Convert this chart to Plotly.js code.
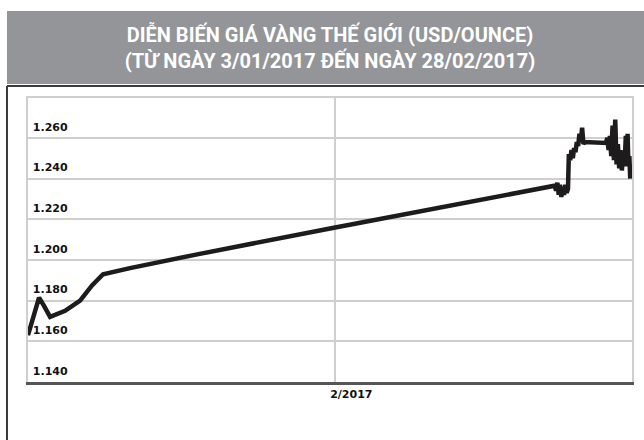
<!DOCTYPE html>
<html>
<head>
<meta charset="utf-8">
<script src="https://cdn.plot.ly/plotly-3.0.1.min.js"></script>
<style>
  html, body { margin: 0; padding: 0; background: #ffffff; }
  #chart { width: 644px; height: 440px; }
</style>
</head>
<body>
<div id="chart"></div>
<script>
// ---- Data ----
const dates = [
  '2017-01-03 00:00','2017-01-03 11:00','2017-01-04 01:00','2017-01-04 12:00','2017-01-05 02:00',
  '2017-01-06 12:00','2017-01-07 22:00','2017-01-09 01:00','2017-01-10 02:00','2017-01-12 15:00',
  '2017-01-19 05:00','2017-01-31 12:00','2017-02-11 20:00','2017-02-21 17:00',
  '2017-02-21 20:00','2017-02-21 23:00','2017-02-22 02:00','2017-02-22 05:00','2017-02-22 08:00',
  '2017-02-22 11:00','2017-02-22 14:00','2017-02-22 17:00','2017-02-22 20:00','2017-02-22 23:00',
  '2017-02-23 01:00','2017-02-23 04:00','2017-02-23 07:00','2017-02-23 10:00','2017-02-23 13:00',
  '2017-02-23 16:00','2017-02-23 19:00','2017-02-23 22:00','2017-02-24 01:00','2017-02-24 04:00',
  '2017-02-24 07:00','2017-02-24 10:00','2017-02-24 13:00','2017-02-26 13:00','2017-02-26 16:00',
  '2017-02-26 19:00','2017-02-26 22:00','2017-02-27 01:00','2017-02-27 04:00','2017-02-27 07:00',
  '2017-02-27 10:00','2017-02-27 13:00','2017-02-27 16:00','2017-02-27 19:00','2017-02-27 22:00',
  '2017-02-28 01:00','2017-02-28 04:00','2017-02-28 07:00','2017-02-28 10:00','2017-02-28 12:00',
  '2017-02-28 14:00','2017-02-28 16:00','2017-02-28 18:00','2017-02-28 20:00'
];
const prices = [
  1163, 1171, 1181.5, 1177.5, 1172,
  1175, 1180, 1187.5, 1193, 1196,
  1203, 1215.5, 1227, 1236.5,
  1234, 1238, 1232, 1237, 1231,
  1236, 1232, 1237, 1233, 1235,
  1252, 1249, 1254, 1250, 1255,
  1253, 1258, 1256, 1262, 1258,
  1265, 1257, 1258, 1257.5, 1260,
  1254, 1261, 1251, 1266, 1249,
  1269, 1247, 1257, 1245, 1254,
  1244, 1252, 1246, 1261, 1248,
  1262, 1246, 1251, 1240
];
const yTickVals = [1140, 1160, 1180, 1200, 1220, 1240, 1260, 1280];
const yTickText = ['1.140', '1.160', '1.180', '1.200', '1.220', '1.240', '1.260', ''];
const xTickVals = ['2017-02-01'];
const xTickText = ['2/2017'];
const titleText = 'DIỄN BIẾN GIÁ VÀNG THẾ GIỚI (USD/OUNCE)<br>(TỪ NGÀY 3/01/2017 ĐẾN NGÀY 28/02/2017)';

const trace = {
  x: dates,
  y: prices,
  type: 'scatter',
  mode: 'lines',
  line: { color: '#1e1b1c', width: 4.5 },
  hoverinfo: 'skip'
};

const layout = {
  width: 644,
  height: 440,
  margin: { l: 28, r: 12, t: 96, b: 58 },
  paper_bgcolor: '#ffffff',
  plot_bgcolor: '#ffffff',
  showlegend: false,
  title: {
    text: titleText,
    font: { family: 'Roboto', size: 20, color: '#ffffff', weight: 700 },
    x: 0.5, xref: 'paper', xanchor: 'center',
    y: 0.905, yref: 'container', yanchor: 'middle'
  },
  xaxis: {
    type: 'date',
    range: ['2017-01-03', '2017-03-01'],
    tickmode: 'array',
    tickvals: xTickVals,
    ticktext: xTickText,
    ticks: '',
    ticklabelshift: 16,
    tickfont: { family: 'DejaVu Sans', size: 11, color: '#111111', weight: 700 },
    showgrid: true,
    gridcolor: '#cfcfcf',
    gridwidth: 2,
    showline: true,
    linecolor: '#555555',
    linewidth: 3,
    zeroline: false,
    fixedrange: true
  },
  yaxis: {
    range: [1140, 1280.6],
    tickmode: 'array',
    tickvals: yTickVals,
    ticktext: yTickText,
    ticks: '',
    ticklabelposition: 'inside',
    ticklabelshift: -11,
    ticklabelstandoff: 4,
    tickfont: { family: 'DejaVu Sans', size: 11, color: '#111111', weight: 700 },
    showgrid: true,
    gridcolor: '#cfcfcf',
    gridwidth: 2,
    showline: true,
    mirror: true,
    linecolor: '#cfcfcf',
    linewidth: 2,
    zeroline: false,
    fixedrange: true
  },
  shapes: [
    // grey title band
    { type: 'rect', xref: 'paper', yref: 'paper', layer: 'below',
      x0: -0.0348, x1: 1.03, y0: 1.042, y1: 1.297,
      fillcolor: '#939598', line: { width: 0 } },
    // frame top line
    { type: 'line', xref: 'paper', yref: 'paper',
      x0: -0.0348, x1: 1.03, y0: 1.035, y1: 1.035,
      line: { color: '#3a3a3a', width: 2 } },
    // frame left line
    { type: 'line', xref: 'paper', yref: 'paper',
      x0: -0.0348, x1: -0.0348, y0: 1.035, y1: -0.21,
      line: { color: '#3a3a3a', width: 2 } }
  ]
};

Plotly.newPlot('chart', [trace], layout, { displayModeBar: false, staticPlot: true });
</script>
</body>
</html>
